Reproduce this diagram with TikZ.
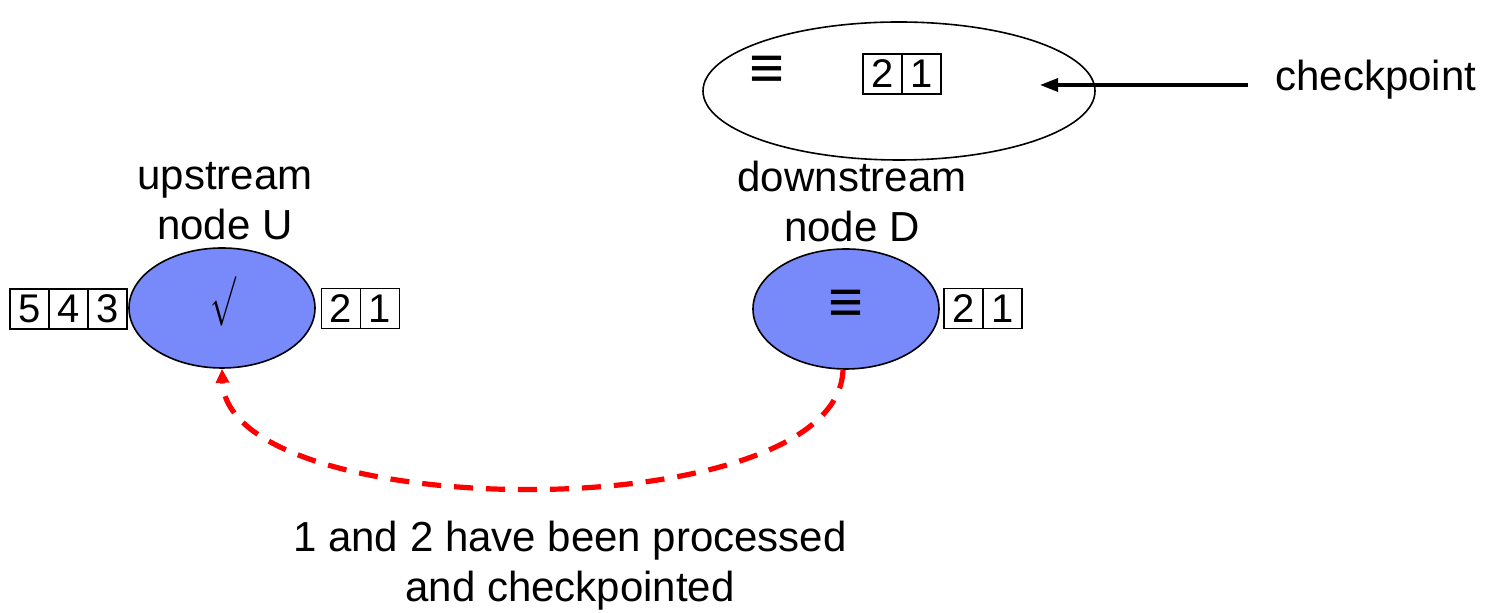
\documentclass[tikz,border=0pt]{standalone}
\usepackage{fontspec}
\setmainfont{Liberation Sans}
\usetikzlibrary{arrows.meta,shapes.geometric}
\definecolor{nodeblue}{RGB}{120,137,250}
\definecolor{flowred}{RGB}{255,0,0}
\tikzset{
  x=0.5pt, y=-0.5pt,
  txt/.style={font=\fontsize{21}{25}\selectfont, align=center, inner sep=0pt},
  cell/.style={draw, line width=0.6pt, minimum width=19.5pt, minimum height=20pt,
               inner sep=0pt, font=\fontsize{20}{20}\selectfont},
  opnode/.style={ellipse, draw, line width=0.8pt, fill=nodeblue,
                 minimum width=93pt, minimum height=60pt, inner sep=0pt},
  store/.style={ellipse, draw, line width=0.8pt, fill=white,
                minimum width=196pt, minimum height=69pt, inner sep=0pt},
  state/.style={font=\fontsize{30}{30}\selectfont\bfseries, inner sep=0pt},
  ack/.style={draw=flowred, line width=2.6pt, dash pattern=on 9.5pt off 6.5pt,
              -{Triangle[length=7pt,width=6.5pt,fill=flowred]}},
  cparrow/.style={line width=1.6pt, -{Triangle[length=9pt,width=6.5pt]}}
}
\begin{document}
\begin{tikzpicture}
\useasboundingbox (0,0) rectangle (1496,613);

% upstream node with its input and output queues
\node[opnode] (U) at (222,308) {};
\node[font=\fontsize{25}{25}\selectfont, inner sep=0pt] (Uchk) at (223,301)
  {\scalebox{0.62}[1]{$\surd$}};
\node[cell] (u5) at (29.5,309) {5};
\node[cell] (u4) at (68.5,309) {4};
\node[cell] (u3) at (107.5,309) {3};
\node[cell] (uo2) at (341,308.5) {2};
\node[cell] (uo1) at (380,308.5) {1};
\node[txt] (Ulab) at (225,201) {upstream\\node U};

% downstream node and its output queue
\node[opnode] (D) at (846,309) {};
\node[state] (Dst) at (846,306.5) {≡};
\node[cell] (do2) at (963.5,308.5) {2};
\node[cell] (do1) at (1002.5,308.5) {1};
\node[txt] (Dlab) at (852,201) {downstream\\node D};

% checkpoint store
\node[store] (cp) at (899,91) {};
\node[state] (cpst) at (767,72) {≡};
\node[cell] (c2) at (882.5,74) {2};
\node[cell] (c1) at (921.5,74) {1};
\coordinate (cptip) at (1040,85);
\node[txt, anchor=west, inner sep=3pt] (cplab) at (1269,80) {checkpoint};
\draw[cparrow, shorten <=10.5pt] (cplab.west |- cptip) -- (cptip);

% acknowledgement back to the upstream node
\draw[ack] ([xshift=-1.5pt]D.south) .. controls (838,530) and (228,525) .. (U.south);
\node[txt] (note) at (570,566) {1 and 2 have been processed\\and checkpointed};
\end{tikzpicture}
\end{document}
